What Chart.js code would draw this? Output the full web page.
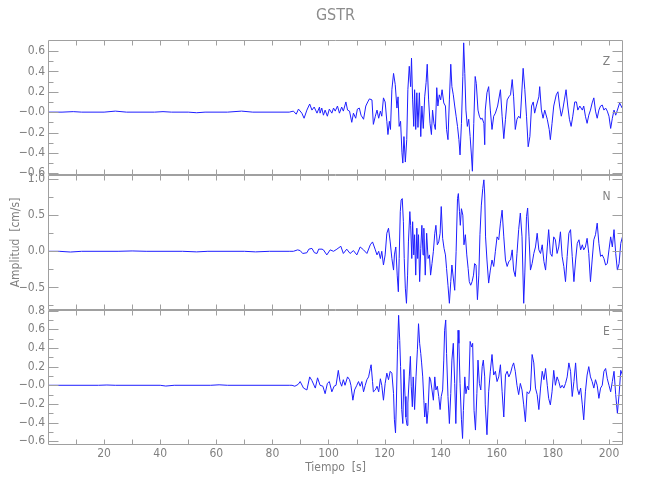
<!DOCTYPE html>
<html>
<head>
<meta charset="utf-8">
<script src="https://cdn.jsdelivr.net/npm/chart.js@4.4.1/dist/chart.umd.min.js"></script>
<style>
	body { margin: 0; background: #fff; }
	#wrap { position: relative; width: 650px; height: 500px; }
	#wrap canvas { position: absolute; left: 0; top: 0; }
</style>
</head>
<body>
<div id="wrap">
	<canvas id="cZ" width="650" height="500"></canvas>
	<canvas id="cN" width="650" height="500"></canvas>
	<canvas id="cE" width="650" height="500"></canvas>
</div>
<script>
// velocity traces: [tiempo s, amplitud cm/s]
const zTrace = [
	[0,0],[5,0],[9,0.005],[12,0],[20,0],[24,0.01],[28,0],[38,0],[41,0.005],[44,0],[50,0],[53,-0.006],[56,0],[64,0],[69,0.01],[73,0],[86,0],
	[87.5,0.01],[88.5,-0.02],[89.3,0.03],[90.5,-0.01],[91.3,-0.06],[92.3,0.02],[93.3,0.08],[94.1,0.02],[94.9,0.05],[95.9,-0.01],[96.8,0.05],
	[97.0,-0.01],[97.6,0.04],[98.2,-0.03],[98.8,0.02],[99.6,-0.04],[100.3,0.03],[101.2,-0.01],[101.8,0.04],[102.4,0.01],[103.2,0.06],[103.9,-0.01],[104.7,0.05],
	[105.3,0.01],[106.2,0.10],[106.8,0.02],[107.5,0.01],[108.3,-0.10],[108.9,-0.01],[109.7,-0.06],[110.3,0.03],[111.0,0.04],[111.6,-0.03],[112.5,-0.07],
	[113.3,0.06],[114.0,0.10],[114.6,0.13],[115.5,0.12],[116.0,-0.12],[116.7,-0.04],[117.3,0.02],[117.9,-0.06],[118.5,0.01],[119.0,-0.04],[119.6,0.14],
	[120.2,0.10],[120.8,-0.09],[121.2,-0.22],[121.7,-0.09],[122.1,-0.17],[122.6,0.22],[123.2,0.38],[123.8,0.27],[124.4,0.04],[124.8,0.15],[125.2,-0.14],
	[125.7,-0.09],[126.2,-0.40],[126.5,-0.50],[126.9,-0.24],[127.4,-0.49],[127.9,-0.27],[128.3,0.22],[128.8,0.45],[129.3,0.25],[129.6,0.53],[130.0,0.12],
	[130.4,-0.14],[130.7,0.22],[131.1,-0.17],[131.5,0.19],[131.9,-0.15],[132.4,0.19],[132.9,-0.24],[133.3,0.06],[133.8,-0.16],[134.3,0.15],[134.8,0.29],
	[135.2,0.47],[135.7,0.12],[136.2,-0.11],[136.7,-0.22],[137.1,0.02],[137.6,-0.11],[138.1,-0.17],[138.6,0.24],[139.0,0.06],[139.5,0.17],[140.0,0.12],
	[140.5,0.22],[141.1,0.09],[141.7,0.06],[142.1,-0.17],[142.6,-0.27],[143.1,0.12],[143.6,0.47],[144.0,0.25],[144.5,0.17],[145.0,0.06],[145.5,-0.04],
	[146.0,-0.14],[146.5,-0.27],[146.9,-0.42],[147.4,-0.11],[147.9,0.35],[148.2,0.68],[148.6,0.38],[149.0,0.02],[149.5,-0.14],[150.0,-0.07],[150.5,-0.24],
	[151.0,-0.44],[151.3,-0.58],[151.8,-0.11],[152.3,0.35],[152.7,0.28],[153.3,0.02],[153.8,-0.04],[154.3,-0.07],[154.8,-0.06],[155.4,-0.11],[155.7,-0.32],
	[155.9,0.02],[156.5,0.19],[157.1,0.25],[157.7,0.02],[158.3,-0.17],[158.9,-0.04],[159.5,-0.01],[160.3,0.06],[161.3,0.22],
	[161.9,-0.04],[162.5,-0.26],[163.1,-0.07],[163.7,0.12],[164.3,0.15],[164.9,0.17],[165.5,0.32],[166.0,0.15],[166.6,-0.17],[167.2,-0.07],[167.8,-0.04],
	[168.4,-0.06],[169.4,0.43],[170.0,0.22],[170.6,-0.04],[171.2,-0.34],[171.8,-0.24],[172.4,0.06],[173.0,0.10],[173.5,-0.01],[174.1,0.06],[175.0,0.15],
	[175.3,0.25],[175.9,0.02],[176.5,-0.06],[177.1,0.02],[178.0,-0.07],[178.7,-0.17],[179.1,-0.27],[179.7,-0.11],[180.3,0.06],[181.2,0.17],[181.8,0.20],
	[182.4,0.06],[183.0,-0.04],[183.5,0.02],[184.1,0.12],[184.7,0.22],[185.3,0.06],[185.9,-0.07],[186.5,-0.14],[187.1,-0.04],[187.8,0.10],[188.4,0.10],
	[188.9,0.02],[189.6,0.06],[190.5,0.02],[191.0,0.06],[191.6,-0.04],[192.2,-0.11],[192.8,-0.03],[193.4,0.02],[194.0,0.09],[194.6,0.14],[195.2,0.01],
	[195.8,-0.06],[196.4,0.02],[197.0,0.06],[197.6,0.07],[198.2,0.02],[198.8,0.04],[199.4,0.01],[200.0,-0.04],[200.6,-0.16],[201.2,-0.06],[201.8,0.02],
	[202.4,-0.03],[203.0,0.02],[203.8,0.09],[204.7,0.04]
];

const nTrace = [
	[0,0],[4,0],[8,-0.01],[12,0],[25,0],[30,0.005],[35,0],[48,0],[53,-0.008],[57,0],[70,0],[74,-0.008],[79,0],[86,0],
	[87.5,0],[89.0,0.02],[89.9,0.01],[90.8,-0.03],[92.3,-0.02],[93.0,0.03],[94.1,0.04],[95.0,-0.02],[95.9,-0.03],[96.5,0.03],[97.7,0.03],
	[98.2,0.02],[99.4,-0.05],[100.6,0.02],[101.8,0],[103.0,0.03],[104.4,0.07],[105.3,-0.03],[106.5,0.03],[107.7,-0.03],[108.9,0.01],[110.1,-0.05],
	[111.3,0.06],[112.5,0.02],[113.7,-0.03],[114.9,0.09],[115.7,0.13],[116.7,0.02],[117.3,-0.05],[117.9,0],[118.5,-0.10],[119.0,0],[119.6,-0.19],
	[120.2,-0.05],[120.8,0.25],[121.4,0.32],[122.0,0.13],[122.6,-0.10],[123.2,-0.26],[123.5,-0.05],[124.0,0.06],[124.5,-0.33],[124.9,-0.56],[125.2,-0.10],
	[125.6,0.55],[125.9,0.71],[126.3,0.73],[126.7,0.41],[127.0,-0.10],[127.4,-0.51],[127.8,-0.72],[128.2,-0.33],[128.5,0.13],[129.0,0.55],[129.3,0.36],
	[129.7,-0.10],[130.0,0.41],[130.4,-0.05],[130.7,0.23],[131.1,-0.33],[131.5,0.32],[131.8,-0.10],[132.1,0.23],[132.5,-0.42],[132.9,0.04],[133.3,0.36],
	[133.7,-0.05],[134.0,0.32],[134.5,-0.33],[135.0,0.25],[135.5,-0.10],[136.0,-0.05],[136.4,-0.33],[136.9,-0.17],[137.4,0],[137.9,0.25],[138.3,0.36],
	[138.8,0.09],[139.3,0.13],[139.8,0.25],[140.2,0.62],[140.7,0.18],[141.2,0.04],[141.7,-0.05],[142.1,-0.24],[142.6,-0.47],[143.1,-0.72],[143.6,-0.42],
	[144.0,-0.19],[144.5,-0.37],[145.0,-0.54],[145.5,0],[146.0,0.73],[146.3,0.80],[146.7,0.55],[147.0,0.36],[147.4,0.59],[147.9,0.50],[148.3,0.09],
	[148.8,0.23],[149.3,-0.05],[149.8,-0.24],[150.2,-0.42],[150.7,-0.47],[151.2,-0.42],[151.7,-0.33],[152.1,-0.17],[152.6,-0.19],[153.1,-0.67],[153.6,-0.33],
	[154.0,0.23],[154.5,0.64],[155.0,0.87],[155.4,0.99],[155.7,0.78],
	[156.0,0.20],[156.5,-0.12],[157.1,-0.44],[157.7,-0.26],[158.3,-0.12],[158.9,-0.21],[159.5,0],[160.1,0.20],[160.7,0.16],[161.3,0.39],[161.9,0.57],
	[162.5,0.20],[163.1,-0.12],[163.7,-0.21],[164.3,-0.14],[164.9,-0.12],[165.5,0.02],[166.0,-0.26],[166.6,-0.35],[167.2,-0.03],[167.8,0.30],[168.4,0.53],
	[169.0,0.20],[169.6,-0.72],[170.0,-0.30],[170.6,0.48],[171.0,0.60],[171.5,0.20],[172.0,-0.26],[172.6,-0.17],[173.2,-0.03],[173.8,0.06],[174.4,0.25],
	[175.0,0.02],[175.6,-0.03],[176.2,0.09],[176.8,-0.14],[177.4,-0.26],[178.0,0.06],[178.5,0.30],[179.1,-0.03],[179.7,-0.07],[180.3,0.20],[180.9,0.16],
	[181.5,-0.03],[182.1,0.06],[182.7,0.27],[183.3,-0.07],[183.9,-0.21],[184.5,-0.42],[185.1,-0.07],[185.7,0.25],[186.3,0.30],[186.9,-0.07],[187.5,-0.42],
	[188.1,-0.12],[188.7,0.11],[189.3,0.16],[189.9,0.02],[190.5,0.09],[191.0,0.02],[191.6,0.06],[192.2,0.18],[192.8,-0.03],[193.4,-0.42],[194.0,-0.12],
	[194.6,0.16],[195.2,0.23],[195.8,0.39],[196.4,0.11],[197.0,-0.07],[197.6,-0.05],[198.2,-0.10],[198.8,-0.19],[199.4,-0.17],[200.0,0.02],[200.6,0.20],
	[201.2,0.06],[201.8,0.30],[202.4,-0.03],[203.0,-0.26],[203.6,-0.17],[204.2,0.11],[204.8,0.20]
];

const eTrace = [
	[0,0],[18,0],[21,0.003],[24,0],[40,0],[42,-0.008],[45,0],[58,0],[61,0.005],[64,0],[86,0],
	[87.0,0],[88.0,-0.01],[89.2,0.01],[89.9,0.04],[91.1,-0.03],[92.3,-0.05],[93.3,0.09],[94.1,0.05],[95.3,-0.03],[96.1,0.08],
	[97.0,0],[98.0,-0.01],[98.8,-0.09],[99.6,0.02],[100.3,0.04],[101.2,-0.07],[102.0,-0.01],[102.7,0],[103.5,0.16],[104.1,0.04],[104.7,-0.01],
	[105.3,0.06],[105.9,0],[106.8,0.09],[107.5,0.06],[108.0,0],[108.7,-0.16],[109.3,-0.05],[110.1,0],[110.7,0.04],[111.3,-0.01],[111.9,0.04],
	[112.5,-0.07],[113.1,0],[113.7,0.06],[114.3,0.09],[114.9,0.18],[115.2,0.22],[115.7,0.04],[116.0,-0.07],[116.7,-0.05],[117.3,-0.01],[117.9,-0.07],
	[118.5,0.07],[119.0,0],[119.6,-0.16],[120.2,0.02],[120.8,0.13],[121.4,0.06],[122.0,0.15],[122.6,0.13],[123.2,-0.09],[123.5,-0.37],[123.9,-0.51],
	[124.2,-0.19],[124.6,0.38],[125.0,0.75],[125.4,0.48],[125.7,0.20],[126.1,-0.26],[126.5,-0.41],[126.9,0.17],[127.3,-0.12],[127.6,-0.34],[128.0,-0.43],
	[128.3,-0.19],[128.8,0.09],[129.2,0.31],[129.5,-0.01],[129.9,-0.23],[130.2,0.09],[130.7,-0.26],[131.2,0.09],[131.7,0.38],[132.1,0.66],[132.5,0.45],
	[132.9,0.34],[133.2,0.24],[133.6,0.09],[134.0,-0.16],[134.3,-0.34],[134.7,-0.19],[135.1,-0.41],[135.5,-0.27],[136.0,0.09],[136.4,0.06],[136.9,-0.05],
	[137.4,-0.16],[137.9,0.09],[138.3,-0.05],[138.8,-0.01],[139.3,-0.12],[139.8,-0.26],[140.2,-0.12],[140.7,-0.05],[141.1,0.27],[141.4,0.59],[141.8,0.70],
	[142.1,0.34],[142.6,-0.12],[143.1,-0.41],[143.6,-0.09],[144.0,0.27],[144.5,0.45],[145.0,0.02],[145.4,-0.41],[145.7,-0.05],[146.2,0.59],[146.5,0.45],
	[146.9,0.02],[147.4,-0.37],[147.8,-0.57],[148.1,-0.27],[148.6,0.09],[149.0,-0.09],[149.5,-0.01],[150.0,-0.05],[150.5,0.47],[151.0,0.41],[151.4,0.45],
	[151.9,-0.27],[152.4,-0.48],[152.9,-0.09],[153.3,0.27],[153.8,0.02],[154.3,-0.05],[154.8,0.20],[155.2,0.27],[155.7,0.09],
	[155.9,-0.21],[156.5,-0.53],[157.1,-0.07],[157.7,0.15],[158.3,0.33],[158.9,0.11],[159.5,0.15],[160.1,0.04],[160.7,0.09],[161.3,0.22],[161.9,-0.07],
	[162.5,-0.34],[163.1,0.11],[163.7,0.15],[164.3,0.09],[164.9,0.13],[165.5,0.20],[166.0,0.24],[166.6,0.15],[167.2,0],[167.8,-0.10],[168.4,0.02],
	[169.0,-0.05],[169.6,-0.21],[170.2,-0.39],[170.8,-0.07],[171.4,-0.09],[172.0,-0.05],[172.6,0.33],[173.2,0.24],[173.8,-0.03],[174.4,-0.10],[175.0,-0.26],
	[175.6,-0.03],[176.2,0.15],[176.8,0.06],[177.4,0.18],[178.0,0],[178.5,-0.14],[179.1,-0.21],[179.7,-0.07],[180.3,0.16],[180.9,0],[181.5,0.09],
	[182.1,0.04],[182.7,-0.03],[183.3,0],[183.9,-0.03],[184.5,0.02],[185.1,0.09],[185.7,0.24],[186.3,0.15],[186.9,-0.12],[187.5,0.04],[188.1,0.24],
	[188.7,-0.03],[189.3,-0.10],[189.9,-0.03],[190.5,-0.21],[191.0,-0.37],[191.6,-0.07],[192.2,0.11],[192.8,0.20],[193.4,0.09],[194.0,0.04],[194.6,-0.03],
	[195.2,0.06],[195.8,0],[196.4,-0.14],[197.0,-0.03],[197.6,0],[198.2,0.15],[198.8,0.18],[199.4,0.07],[200.0,0],[200.6,-0.07],[201.2,0.04],
	[201.8,0.15],[202.4,-0.10],[203.0,-0.30],[203.6,-0.10],[204.2,0.16],[204.8,0.11]
];

// axis ranges and ticks
const timeRange = [0, 205];
const timeTicks = [20, 40, 60, 80, 100, 120, 140, 160, 180, 200];
const timeTickText = ["20", "40", "60", "80", "100", "120", "140", "160", "180", "200"];
const timeMinor = [10, 30, 50, 70, 90, 110, 130, 150, 170, 190];

const zRange = [-0.617, 0.708];
const zTicks = [0.6, 0.4, 0.2, 0, -0.2, -0.4, -0.6];
const zTickText = ["0.6", "0.4", "0.2", "\u22120.0", "\u22120.2", "\u22120.4", "\u22120.6"];
const zMinor = [0.5, 0.3, 0.1, -0.1, -0.3, -0.5];

const nRange = [-0.813, 1.057];
const nTicks = [1.0, 0.5, 0, -0.5];
const nTickText = ["1.0", "0.5", "0.0", "\u22120.5"];
const nMinor = [0.75, 0.25, -0.25, -0.75];

const eRange = [-0.64, 0.807];
const eTicks = [0.8, 0.6, 0.4, 0.2, 0, -0.2, -0.4, -0.6];
const eTickText = ["0.8", "0.6", "0.4", "0.2", "\u22120.0", "\u22120.2", "\u22120.4", "\u22120.6"];
const eMinor = [0.7, 0.5, 0.3, 0.1, -0.1, -0.3, -0.5];

const FONT = '"Liberation Sans Narrow", "DejaVu Sans Condensed", "Roboto Condensed", sans-serif';
const TEXT = "#808080";
const FRAME = "#a0a0a0";
const TRACE = "rgb(30,30,255)";

// frame with inward ticks on all four sides + component letter
const panelFrame = {
	id: "panelFrame",
	afterDraw(chart, args, opts) {
		const ctx = chart.ctx;
		const a = chart.chartArea;
		const xs = chart.scales.x, ys = chart.scales.y;
		const l = Math.round(a.left) + 0.5, r = Math.round(a.right) - 0.5;
		const t = Math.round(a.top) + 0.5, b = Math.round(a.bottom) - 0.5;
		ctx.save();
		ctx.strokeStyle = FRAME;
		ctx.lineWidth = 1;
		ctx.beginPath();
		ctx.rect(l, t, r - l, b - t);
		const yTick = function(v, len) {
			const y = Math.round(ys.getPixelForValue(v)) + 0.5;
			ctx.moveTo(l, y); ctx.lineTo(l + len, y);
			ctx.moveTo(r, y); ctx.lineTo(r - len, y);
		};
		for(const v of opts.major) yTick(v, 10);
		for(const v of opts.minor) yTick(v, 5);
		for(const s of timeTicks.concat(timeMinor)) {
			const x = Math.round(xs.getPixelForValue(s)) + 0.5;
			ctx.moveTo(x, t); ctx.lineTo(x, t + 5);
			ctx.moveTo(x, b); ctx.lineTo(x, b - 5);
		}
		ctx.stroke();
		ctx.fillStyle = TEXT;
		ctx.font = "12px " + FONT;
		ctx.textAlign = "center";
		ctx.textBaseline = "middle";
		ctx.fillText(opts.letter, r - 16, t + 21);
		ctx.restore();
	}
};

function makePanel(canvasId, trace, range, ticks, tickText, minor, letter, extra) {
	const yAxis = {
		type: "linear",
		min: range[0],
		max: range[1],
		afterFit: function(scale) { scale.width = 48; },
		afterBuildTicks: function(scale) { scale.ticks = ticks.map(v => ({value: v})); },
		grid: {display: false, drawTicks: false},
		border: {display: false},
		ticks: {
			autoSkip: false,
			padding: 3,
			color: TEXT,
			font: {family: FONT, size: 12},
			callback: function(value) { return tickText[ticks.indexOf(value)]; }
		},
		title: extra.yTitle || {display: false}
	};
	const xAxis = {
		type: "linear",
		min: timeRange[0],
		max: timeRange[1],
		display: extra.showX,
		grid: {display: false, drawTicks: false},
		border: {display: false},
		afterBuildTicks: function(scale) { scale.ticks = timeTicks.map(v => ({value: v})); },
		ticks: {
			autoSkip: false,
			maxRotation: 0,
			padding: 2,
			color: TEXT,
			font: {family: FONT, size: 12},
			callback: function(value) { return timeTickText[timeTicks.indexOf(value)]; }
		},
		title: extra.xTitle || {display: false}
	};
	// only the bottom panel keeps room for the time axis
	if(extra.showX)
		xAxis.afterFit = function(scale) { scale.height = 55; };
	return new Chart(document.getElementById(canvasId), {
		type: "line",
		data: {
			datasets: [{
				data: trace.map(p => ({x: p[0], y: p[1]})),
				borderColor: TRACE,
				borderWidth: 1,
				pointRadius: 0,
				tension: 0,
				fill: false
			}]
		},
		options: {
			responsive: false,
			animation: false,
			devicePixelRatio: 1,
			layout: {padding: extra.padding},
			scales: {x: xAxis, y: yAxis},
			plugins: {
				legend: {display: false},
				tooltip: {enabled: false},
				title: extra.title || {display: false},
				panelFrame: {major: ticks, minor: minor, letter: letter}
			}
		},
		plugins: [panelFrame]
	});
}

makePanel("cZ", zTrace, zRange, zTicks, zTickText, zMinor, "Z", {
	showX: false,
	padding: {top: 0, bottom: 325, left: 0, right: 27},
	title: {
		display: true,
		text: "GSTR",
		fullSize: false,
		color: "#8c8c8c",
		font: {family: FONT, size: 16, weight: "normal"},
		padding: {top: 6, bottom: 14.8}
	}
});

makePanel("cN", nTrace, nRange, nTicks, nTickText, nMinor, "N", {
	showX: false,
	padding: {top: 175, bottom: 190, left: 0, right: 27},
	yTitle: {
		display: true,
		text: "Amplitud  [cm/s]",
		color: TEXT,
		font: {family: FONT, size: 12},
		padding: {top: 9, bottom: 0}
	}
});

makePanel("cE", eTrace, eRange, eTicks, eTickText, eMinor, "E", {
	showX: true,
	padding: {top: 310, bottom: 0, left: 0, right: 27},
	xTitle: {
		display: true,
		text: "Tiempo  [s]",
		color: TEXT,
		font: {family: FONT, size: 12},
		padding: {top: 0, bottom: 25}
	}
});
</script>
</body>
</html>
